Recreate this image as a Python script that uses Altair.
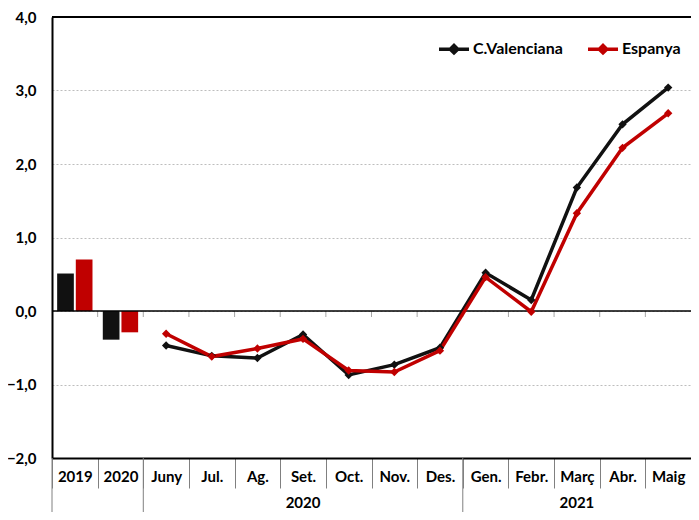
import altair as alt
import pandas as pd

cats = ["2019", "2020", "Juny", "Jul.", "Ag.", "Set.", "Oct.", "Nov.", "Des.",
        "Gen.", "Febr.", "Març", "Abr.", "Maig"]
series = ["C.Valenciana", "Espanya"]
colors = ["#111111", "#C00000"]

years = ["2019", "2020"]
bar_cv = [0.51, -0.39]
bar_es = [0.70, -0.29]

months = cats[2:]
line_cv = [-0.47, -0.61, -0.64, -0.32, -0.87, -0.73, -0.50, 0.52, 0.15, 1.68, 2.54, 3.04]
line_es = [-0.31, -0.62, -0.51, -0.38, -0.81, -0.83, -0.54, 0.46, -0.01, 1.33, 2.22, 2.69]

groups = ["2020", "2021"]
group_label_at = ["Set.", "Març"]
group_starts = ["2019", "Juny", "Gen."]

W, H = 639, 441
BOTTOM = 54
FONT = "Lato"

bars = pd.DataFrame(
    [{"cat": c, "series": series[0], "v": v} for c, v in zip(years, bar_cv)] +
    [{"cat": c, "series": series[1], "v": v} for c, v in zip(years, bar_es)]
)
lines = pd.DataFrame(
    [{"cat": c, "series": series[0], "v": v, "idx": i} for i, (c, v) in enumerate(zip(months, line_cv))] +
    [{"cat": c, "series": series[1], "v": v, "idx": i} for i, (c, v) in enumerate(zip(months, line_es))]
)
ticks_df = pd.DataFrame({"cat": cats[1:]})
starts_df = pd.DataFrame({"cat": group_starts})
glabels_df = pd.DataFrame({"cat": group_label_at, "label": groups})

xscale = alt.Scale(domain=cats, paddingInner=0, paddingOuter=0)
yscale = alt.Scale(domain=[-2, 4], nice=False, zero=False)
cscale = alt.Scale(domain=series, range=colors)

x_axis = alt.Axis(
    title=None, labelAngle=0, tickBand="extent", tickSize=30, tickColor="#808080",
    tickWidth=1, domainColor="#000000", domainWidth=2, labelPadding=-19,
    labelFontSize=15, labelFontWeight="bold", labelColor="#000000", grid=False,
)
y_axis = alt.Axis(
    title=None, values=[-2, -1, 0, 1, 2, 3, 4],
    labelExpr="replace(format(datum.value, '.1f'), '.', ',')",
    grid=True, gridDash=[2, 2], gridColor="#BDBDBD", gridWidth=1,
    ticks=False, domainColor="#000000", domainWidth=2,
    labelFontSize=15, labelFontWeight="bold", labelColor="#000000", labelPadding=16,
)

legend_symbol = "M-1,0L1,0M0,-0.25L0.25,0L0,0.25L-0.25,0Z"
legend = alt.Legend(
    title=None, orient="none", legendX=385, legendY=15, direction="horizontal",
    symbolType=legend_symbol, symbolSize=900, symbolStrokeWidth=3.5,
    labelFontSize=16, labelFontWeight="bold", labelColor="#000000", labelFont=FONT,
    columnPadding=18, labelOffset=2, padding=0,
)

bar_layer = alt.Chart(bars).mark_bar().encode(
    x=alt.X("cat:N", scale=xscale, axis=x_axis, sort=cats),
    xOffset=alt.XOffset("series:N", scale=alt.Scale(domain=series, paddingInner=0.105, paddingOuter=0.276)),
    y=alt.Y("v:Q", scale=yscale, axis=y_axis),
    color=alt.Color("series:N", scale=cscale, legend=legend),
)

zero_rule = alt.Chart(pd.DataFrame({"z": [0]})).mark_rule(color="#000000", strokeWidth=1.5).encode(
    y=alt.Y("z:Q", scale=yscale)
)
top_rule = alt.Chart(pd.DataFrame({"t": [4]})).mark_rule(color="#000000", strokeWidth=2).encode(
    y=alt.Y("t:Q", scale=yscale), x=alt.value(0), x2=alt.value(W)
)

zero_ticks = alt.Chart(ticks_df).transform_calculate(z="0").mark_tick(
    orient="vertical", size=6, thickness=1, color="#808080", yOffset=3
).encode(
    x=alt.X("cat:N", scale=xscale, bandPosition=0),
    y=alt.Y("z:Q", scale=yscale),
)

group_sep = alt.Chart(starts_df).mark_rule(color="#808080", strokeWidth=1).encode(
    x=alt.X("cat:N", scale=xscale, bandPosition=0),
    y=alt.value(H), y2=alt.value(H + BOTTOM),
)

group_text = alt.Chart(glabels_df).mark_text(
    font=FONT, fontSize=15, fontWeight="bold", color="#000000", baseline="middle"
).encode(
    x=alt.X("cat:N", scale=xscale),
    y=alt.value(H + 45),
    text="label:N",
)

line_layer = alt.Chart(lines).mark_line(
    strokeWidth=3.5,
    point=alt.OverlayMarkDef(shape="diamond", size=70, filled=True),
).encode(
    x=alt.X("cat:N", scale=xscale, sort=cats),
    y=alt.Y("v:Q", scale=yscale),
    color=alt.Color("series:N", scale=cscale, legend=legend),
    order=alt.Order("idx:Q"),
)

chart = alt.layer(
    bar_layer, zero_ticks, zero_rule, top_rule, group_sep, group_text, line_layer
).properties(
    width=W, height=H,
    autosize=alt.AutoSizeParams(type="none"),
    padding={"left": 44, "top": 9, "right": 0, "bottom": BOTTOM},
).configure_view(stroke=None).configure(font=FONT)

chart.save("out.html", embed_options={"renderer": "svg", "actions": False})
